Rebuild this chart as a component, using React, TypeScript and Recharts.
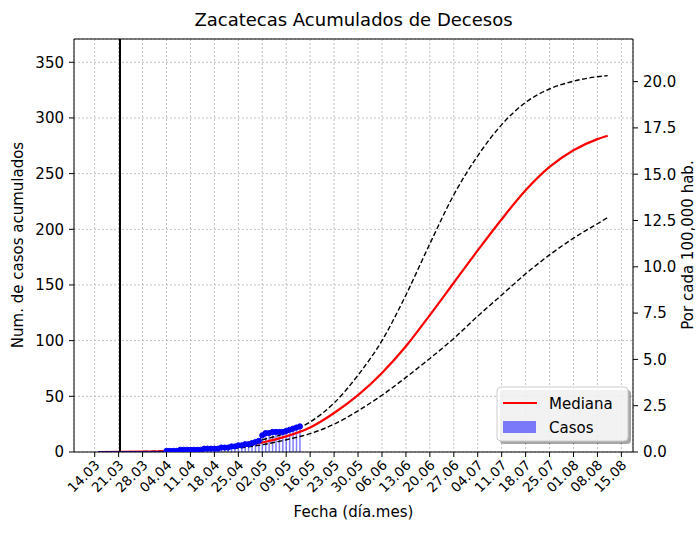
import React from "react";
import {
  ComposedChart,
  Line,
  Bar,
  XAxis,
  YAxis,
  CartesianGrid,
  ReferenceLine,
} from "recharts";

// ---- data ----
const X_TICK_LABELS = [
  "14.03", "21.03", "28.03", "04.04", "11.04", "18.04", "25.04", "02.05",
  "09.05", "16.05", "23.05", "30.05", "06.06", "13.06", "20.06", "27.06",
  "04.07", "11.07", "18.07", "25.07", "01.08", "08.08", "15.08",
];
// day index 0 = 14.03
const MODEL_DAYS = [1, 14, 21, 28, 35, 42, 49, 56, 63, 70, 77, 84, 91, 98, 105, 112, 119, 126, 133, 140, 147, 150];
const MEDIANA = [0, 0.3, 0.9, 1.9, 3.2, 5, 8.5, 14, 22, 35, 51, 71, 95, 123, 152, 181, 209, 235, 256, 271, 281, 284];
const SUPERIOR = [0, 0.4, 1.1, 2.3, 4, 6.5, 11, 17, 27, 44, 69, 100, 141, 187, 231, 266, 294, 314, 326, 333, 337, 338];
const INFERIOR = [0, 0.2, 0.7, 1.5, 2.5, 3.6, 6.5, 11, 16.5, 25, 37, 51, 67, 84, 102, 122, 141, 160, 177, 192, 205, 210.5];

const CASE_START_DAY = 1;
const CASOS = [
  0, 0, 0, 0, 0, 0, 0, 0, 0, 0, 0, 0, 0, 0, 0, 0, 0, 0, 0, 0,
  1, 1, 1, 1, 2, 2, 2,
  2, 2, 2, 2, 3, 3, 3,
  3, 3, 4, 4, 4, 5, 5,
  6, 6, 7, 7, 8, 9, 10,
  15, 17, 17, 18, 18, 18, 18,
  19, 20, 21, 22, 23,
];
const FIRST_MARKER_DAY = 21;
const VLINE_DAY = 7.4;

const LEFT_TICKS = [0, 50, 100, 150, 200, 250, 300, 350];
const RIGHT_TICKS = [0, 2.5, 5, 7.5, 10, 12.5, 15, 17.5, 20];
const X_DOMAIN: [number, number] = [-6.05, 157.4];
const LEFT_MAX = 370.9;
const RIGHT_MAX = 22.3;

const caseData = CASOS.map((v, i) => ({ day: CASE_START_DAY + i, casos: v }));
const modelData = MODEL_DAYS.map((d, i) => ({
  day: d,
  mediana: MEDIANA[i],
  superior: SUPERIOR[i],
  inferior: INFERIOR[i],
}));
const xTicks = X_TICK_LABELS.map((_, i) => i * 7);

const FONT = "DejaVu Sans, sans-serif";

const XTick = (props: any) => {
  const { x, y, payload } = props;
  const label = X_TICK_LABELS[Math.round(payload.value / 7)];
  return (
    <g transform={`translate(${x + 6},${y + 9})`}>
      <text
        x={0}
        y={0}
        textAnchor="end"
        transform="rotate(-45)"
        fontSize={13.5}
        fill="#000"
        fontFamily={FONT}
      >
        {label}
      </text>
    </g>
  );
};

const CaseDot = (p: any) => {
  const key = `d-${p.index}`;
  if (p.payload.day < FIRST_MARKER_DAY) return <g key={key} />;
  return <circle key={key} cx={p.cx} cy={p.cy} r={2.6} fill="#0000ff" stroke="#0000ff" />;
};

export default function App() {
  return (
    <div style={{ position: "absolute", left: 0, top: 0, width: 700, height: 536, background: "#fff", fontFamily: FONT }}>
      <ComposedChart
        width={700}
        height={536}
        data={caseData}
        margin={{ top: 39, right: 0, bottom: 0, left: 0 }}
      >
        <CartesianGrid
          yAxisId="left"
          stroke="#b0b0b0"
          strokeDasharray="2 2"
          strokeWidth={0.8}
        />
        <XAxis
          dataKey="day"
          type="number"
          domain={X_DOMAIN}
          ticks={xTicks}
          allowDataOverflow
          interval={0}
          height={84}
          tick={<XTick />}
          tickSize={5}
          tickMargin={0}
          stroke="#000"
          axisLine={{ stroke: "#000" }}
          tickLine={{ stroke: "#000" }}
        />
        <YAxis
          yAxisId="left"
          type="number"
          domain={[0, LEFT_MAX]}
          ticks={LEFT_TICKS}
          allowDataOverflow
          width={74}
          tickSize={5}
          tickMargin={5}
          tick={{ fontSize: 15, fill: "#000", fontFamily: FONT }}
          axisLine={{ stroke: "#000" }}
          tickLine={{ stroke: "#000" }}
        />
        <YAxis
          yAxisId="right"
          orientation="right"
          type="number"
          domain={[0, RIGHT_MAX]}
          ticks={RIGHT_TICKS}
          allowDataOverflow
          width={67}
          tickSize={5}
          tickMargin={5}
          tickFormatter={(v: number) => v.toFixed(1)}
          tick={{ fontSize: 15, fill: "#000", fontFamily: FONT }}
          axisLine={{ stroke: "#000" }}
          tickLine={{ stroke: "#000" }}
        />
        <ReferenceLine yAxisId="left" y={LEFT_MAX} stroke="#000" strokeWidth={1} ifOverflow="visible" />
        <Bar
          yAxisId="left"
          dataKey="casos"
          fill="#0000ff"
          fillOpacity={0.5}
          barSize={1.5}
          isAnimationActive={false}
        />
        <Line
          yAxisId="left"
          data={modelData}
          dataKey="superior"
          type="monotone"
          stroke="#000"
          strokeWidth={1.4}
          strokeDasharray="5 2.5"
          dot={false}
          isAnimationActive={false}
        />
        <Line
          yAxisId="left"
          data={modelData}
          dataKey="inferior"
          type="monotone"
          stroke="#000"
          strokeWidth={1.4}
          strokeDasharray="5 2.5"
          dot={false}
          isAnimationActive={false}
        />
        <Line
          yAxisId="left"
          data={modelData}
          dataKey="mediana"
          type="monotone"
          stroke="#ff0000"
          strokeWidth={2.2}
          dot={false}
          isAnimationActive={false}
        />
        <Line
          yAxisId="left"
          dataKey="casos"
          type="linear"
          stroke="#0000ff"
          strokeWidth={1.5}
          dot={<CaseDot />}
          isAnimationActive={false}
        />
        <ReferenceLine yAxisId="left" x={VLINE_DAY} stroke="#000" strokeWidth={2} />
      </ComposedChart>
      <svg
        width={700}
        height={536}
        style={{ position: "absolute", left: 0, top: 0, pointerEvents: "none" }}
        fontFamily={FONT}
      >
        <text x={353.5} y={26} textAnchor="middle" fontSize={18} fill="#000">
          Zacatecas Acumulados de Decesos
        </text>
        <text x={353.5} y={517} textAnchor="middle" fontSize={15} fill="#000">
          Fecha (día.mes)
        </text>
        <text
          transform="translate(23,245) rotate(-90)"
          textAnchor="middle"
          fontSize={15}
          fill="#000"
        >
          Num. de casos acumulados
        </text>
        <text
          transform="translate(693,245) rotate(-90)"
          textAnchor="middle"
          fontSize={15}
          fill="#000"
        >
          Por cada 100,000 hab.
        </text>
        <g>
          <rect x={500} y={390} width={131} height={54} rx={4} fill="#000" fillOpacity={0.35} />
          <rect x={497} y={387} width={131} height={54} rx={4} fill="#fff" fillOpacity={0.85} stroke="#cccccc" />
          <line x1={503} y1={403} x2={537} y2={403} stroke="#ff0000" strokeWidth={2} />
          <rect x={503} y={421} width={33} height={12} fill="#0000ff" fillOpacity={0.5} />
          <text x={549} y={408.5} fontSize={15} fill="#000">Mediana</text>
          <text x={549} y={432.5} fontSize={15} fill="#000">Casos</text>
        </g>
      </svg>
    </div>
  );
}
